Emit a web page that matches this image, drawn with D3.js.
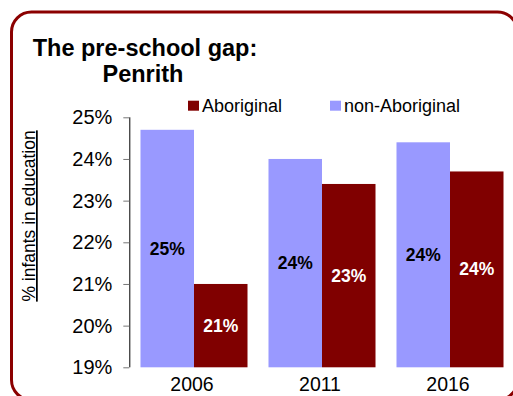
<!DOCTYPE html>
<html><head><meta charset="utf-8">
<script src="https://cdn.jsdelivr.net/npm/d3@7"></script>
<style>body{margin:0;background:#fff}svg{display:block}text{font-family:"Liberation Sans",Arial,sans-serif}</style>
</head><body><svg id="c" width="513" height="396"></svg>
<script>
const categories = ["2006", "2011", "2016"];
const seriesNames = ["non-Aboriginal", "Aboriginal"];
const nonAboriginal = [24.7, 24.0, 24.4];
const aboriginal = [21.0, 23.4, 23.7];
const valueLabelsNon = ["25%", "24%", "24%"];
const valueLabelsAbo = ["21%", "23%", "24%"];
const yTicks = [19, 20, 21, 22, 23, 24, 25];
const colors = {"non-Aboriginal": "#9999FF", "Aboriginal": "#800000"};

const svg = d3.select("#c");
svg.append("rect").attr("x", 11.5).attr("y", 12).attr("width", 506).attr("height", 388)
  .attr("rx", 20).attr("fill", "none").attr("stroke", "#8B0000").attr("stroke-width", 3);

svg.append("text").attr("x", 145).attr("y", 56).attr("text-anchor", "middle")
  .attr("font-size", 23.5).attr("font-weight", "bold").text("The pre-school gap:");
svg.append("text").attr("x", 143).attr("y", 82).attr("text-anchor", "middle")
  .attr("font-size", 23.5).attr("font-weight", "bold").text("Penrith");

const y = d3.scaleLinear().domain([19, 25]).range([367.3, 117.3]);
const x = d3.scaleBand().domain(categories).range([130, 514]).paddingInner(0.164).paddingOuter(0.082);
const xs = d3.scaleBand().domain(seriesNames).range([0, x.bandwidth()]);

const yAxis = d3.axisLeft(y).tickValues(yTicks).tickFormat(d => d + "%").tickSize(6).tickSizeOuter(0).tickPadding(11);
const ya = svg.append("g").attr("transform", "translate(129.3,0)").call(yAxis);
ya.select(".domain").attr("stroke", "#000").attr("d", `M0.5,${y(25)}V${y(19)}`);
ya.selectAll(".tick line").attr("stroke", "#777");
ya.selectAll(".tick text").attr("font-size", 20).attr("fill", "#000").attr("font-family", "Liberation Sans, Arial, sans-serif");

const data = categories.map((c, i) => ({cat: c, vals: [
  {s: "non-Aboriginal", v: nonAboriginal[i], lab: valueLabelsNon[i]},
  {s: "Aboriginal", v: aboriginal[i], lab: valueLabelsAbo[i]}]}));

const g = svg.selectAll(".grp").data(data).enter().append("g")
  .attr("transform", d => `translate(${x(d.cat)},0)`);
g.selectAll("rect").data(d => d.vals).enter().append("rect")
  .attr("x", d => xs(d.s)).attr("width", xs.bandwidth())
  .attr("y", d => y(d.v)).attr("height", d => y(19) - y(d.v))
  .attr("fill", d => colors[d.s]);
g.selectAll("text.vl").data(d => d.vals).enter().append("text").attr("class", "vl")
  .attr("x", d => xs(d.s) + xs.bandwidth() / 2)
  .attr("y", d => (y(d.v) + y(19)) / 2 + 6)
  .attr("text-anchor", "middle").attr("font-size", 17.5).attr("font-weight", "bold")
  .attr("fill", d => d.s === "Aboriginal" ? "#fff" : "#000").text(d => d.lab);

svg.selectAll(".xl").data(categories).enter().append("text").attr("class", "xl")
  .attr("x", d => x(d) + x.bandwidth() / 2 - 2).attr("y", 391)
  .attr("text-anchor", "middle").attr("font-size", 19.5).text(d => d);

svg.append("text").attr("transform", "translate(35,216) rotate(-90)")
  .attr("text-anchor", "middle").attr("font-size", 17.5)
  .attr("text-decoration", "underline").text("% infants in education");

const legend = [{s: "Aboriginal", x: 188}, {s: "non-Aboriginal", x: 330}];
const lg = svg.selectAll(".lg").data(legend).enter().append("g");
lg.append("rect").attr("x", d => d.x).attr("y", 100.7).attr("width", 11).attr("height", 10)
  .attr("fill", d => colors[d.s]);
lg.append("text").attr("x", d => d.x + 14).attr("y", 111.5).attr("font-size", 18).text(d => d.s);
</script></body></html>
